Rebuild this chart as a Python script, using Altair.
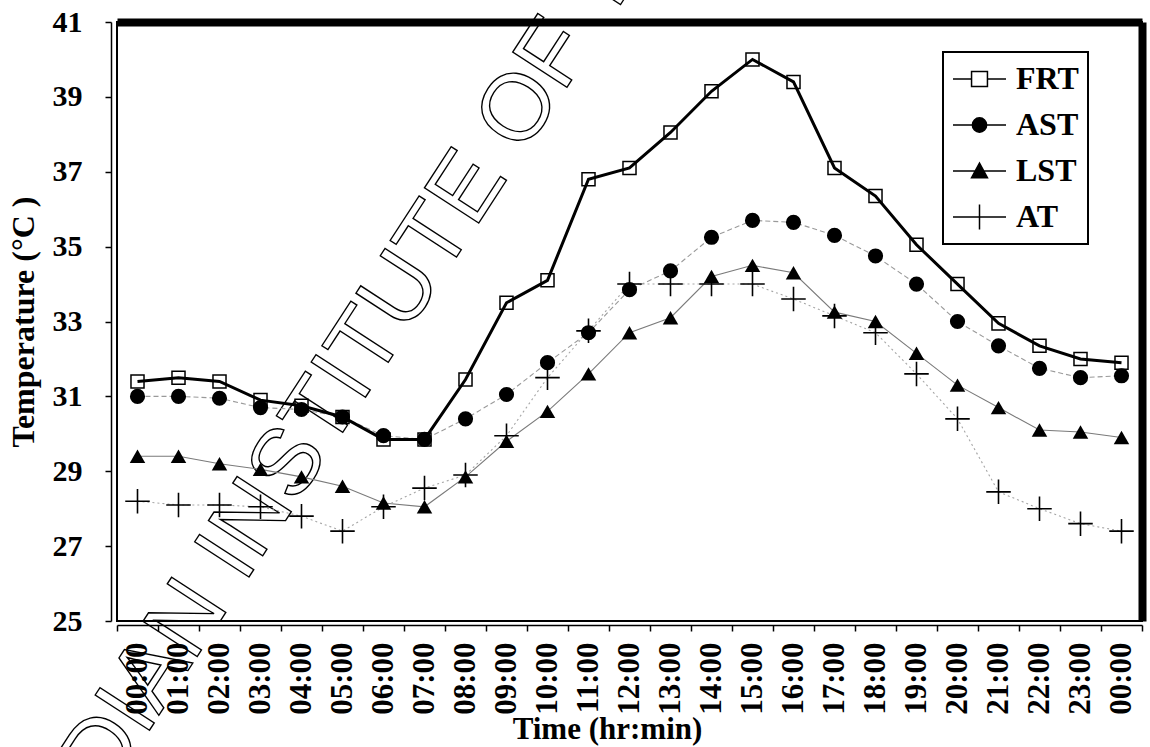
import altair as alt
import pandas as pd

# ---------------- data ----------------
TIMES = ["00:00", "01:00", "02:00", "03:00", "04:00", "05:00", "06:00", "07:00",
         "08:00", "09:00", "10:00", "11:00", "12:00", "13:00", "14:00", "15:00",
         "16:00", "17:00", "18:00", "19:00", "20:00", "21:00", "22:00", "23:00", "00:00"]
FRT = [31.4, 31.5, 31.4, 30.9, 30.75, 30.45, 29.85, 29.85, 31.45, 33.5, 34.1, 36.8, 37.1,
       38.05, 39.15, 40.0, 39.4, 37.1, 36.35, 35.05, 34.0, 32.95, 32.35, 32.0, 31.9]
AST = [31.0, 31.0, 30.95, 30.7, 30.65, 30.45, 29.95, 29.85, 30.4, 31.05, 31.9, 32.7, 33.85,
       34.35, 35.25, 35.7, 35.65, 35.3, 34.75, 34.0, 33.0, 32.35, 31.75, 31.5, 31.55]
LST = [29.4, 29.4, 29.2, 29.05, 28.85, 28.6, 28.15, 28.05, 28.85, 29.8, 30.6, 31.6, 32.7,
       33.1, 34.2, 34.5, 34.3, 33.25, 33.0, 32.15, 31.3, 30.7, 30.1, 30.05, 29.9]
AT = [28.2, 28.1, 28.1, 28.05, 27.8, 27.4, 28.05, 28.55, 28.9, 29.95, 31.5, 32.75, 34.0,
      34.0, 34.0, 34.0, 33.6, 33.15, 32.7, 31.6, 30.4, 28.45, 28.0, 27.6, 27.4]
SERIES = ["FRT", "AST", "LST", "AT"]
Y_TICKS = [25, 27, 29, 31, 33, 35, 37, 39, 41]
WATERMARK = "INDIAN INSTITUTE OF TECHNOLOGY"

rows = []
for name, vals in zip(SERIES, [FRT, AST, LST, AT]):
    for i, v in enumerate(vals):
        rows.append({"idx": i, "series": name, "temp": v})
df = pd.DataFrame(rows)

FONT = "Liberation Serif"
label_expr = "[" + ",".join("'%s'" % t for t in TIMES) + "][datum.value]"

x_scale = alt.Scale(type="band", paddingInner=0, paddingOuter=0, domain=list(range(len(TIMES))))
y_scale = alt.Scale(domain=[25, 41], nice=False, zero=False)

x_axis_main = alt.Axis(
    orient="bottom", labelExpr=label_expr, labelAngle=270, labelFont=FONT, labelFontSize=31,
    labelFontWeight="bold", labelColor="black", labelPadding=11, labelOverlap=False,
    tickBand="extent", tickSize=6, tickColor="black", tickWidth=1.5,
    domainColor="black", domainWidth=1.5, offset=4, grid=False,
    title="Time (hr:min)", titleFont=FONT, titleFontSize=31, titleFontWeight="bold",
    titleColor="black", titlePadding=0, titleX=490)
y_axis_main = alt.Axis(
    orient="left", values=Y_TICKS, labelFont=FONT, labelFontSize=30, labelFontWeight="bold",
    labelColor="black", labelPadding=23, tickSize=6, tickColor="black", tickWidth=1.5,
    domainColor="black", domainWidth=1.5, offset=6, grid=False,
    title="Temperature (°C )", titleFont=FONT, titleFontSize=32, titleFontWeight="bold",
    titleColor="black", titlePadding=12)
x_axis_top = alt.Axis(orient="top", labels=False, ticks=False, domainColor="black",
                      domainWidth=8, grid=False)
y_axis_right = alt.Axis(orient="right", labels=False, ticks=False, domainColor="black",
                        domainWidth=8, grid=False)


def enc(xaxis=None, yaxis=None):
    return dict(
        x=alt.X("idx:O", scale=x_scale, axis=xaxis, title=None),
        y=alt.Y("temp:Q", scale=y_scale, axis=yaxis, title=None),
    )


base = alt.Chart(df)

# watermark
wm = alt.Chart(pd.DataFrame({"t": [WATERMARK]})).mark_text(
    angle=303, font="Liberation Sans", fontSize=94, fill="transparent", stroke="black",
    strokeWidth=1.4, align="left", baseline="middle"
).encode(text="t:N", x=alt.value(-84), y=alt.value(836))

# thin lines
ast_line = base.transform_filter("datum.series == 'AST'").mark_line(
    color="#9a9a9a", strokeWidth=1.1, strokeDash=[5, 3]).encode(**enc(x_axis_main, y_axis_main))
lst_line = base.transform_filter("datum.series == 'LST'").mark_line(
    color="#7a7a7a", strokeWidth=1.1).encode(**enc())
at_line = base.transform_filter("datum.series == 'AT'").mark_line(
    color="#a5a5a5", strokeWidth=1.1, strokeDash=[2, 3]).encode(**enc())

at_pts = base.transform_filter("datum.series == 'AT'").mark_point(
    shape="M-1,0H1M0,-1V1", filled=False, stroke="black", strokeWidth=1.6, size=600,
    opacity=1).encode(**enc())
lst_pts = base.transform_filter("datum.series == 'LST'").mark_point(
    shape="triangle-up", filled=True, color="black", size=240, opacity=1).encode(**enc())
ast_pts = base.transform_filter("datum.series == 'AST'").mark_point(
    shape="circle", filled=True, color="black", size=230, opacity=1).encode(**enc())

frt_line = base.transform_filter("datum.series == 'FRT'").mark_line(
    color="black", strokeWidth=3).encode(**enc())
frt_pts = base.transform_filter("datum.series == 'FRT'").mark_point(
    shape="square", filled=False, stroke="black", strokeWidth=1.5, size=170,
    opacity=1).encode(**enc(x_axis_top, y_axis_right))

# legend (symbols combine line + marker)
LEGEND_PATHS = [
    "M-1,0H-0.3M0.3,0H1M-0.3,-0.28H0.3V0.28H-0.3Z",
    "M-1,0H1M-0.27,0A0.27,0.27,0,1,1,0.27,0A0.27,0.27,0,1,1,-0.27,0Z",
    "M-1,0H1M0,-0.3L0.3,0.25H-0.3Z",
    "M-1,0H1M0,-0.47V0.47",
]
LEGEND_FILLS = ["white", "black", "black", "transparent"]
LEGEND_STROKES = ["black", "black", "black", "black"]
leg = alt.Legend(
    title=None, orient="none", legendX=826, legendY=30, strokeColor="black",
    padding=9, symbolSize=2809, symbolStrokeWidth=1.5,
    labelFont=FONT, labelFontSize=32, labelFontWeight="bold", labelColor="black",
    labelOffset=9, clipHeight=36, rowPadding=10, fillColor="white")
legend_layer = base.transform_filter("false").mark_point(
    filled=False, strokeWidth=1.5, opacity=1).encode(
    shape=alt.Shape("series:N", scale=alt.Scale(domain=SERIES, range=LEGEND_PATHS), legend=leg),
    fill=alt.Fill("series:N", scale=alt.Scale(domain=SERIES, range=LEGEND_FILLS), legend=leg),
    stroke=alt.Stroke("series:N", scale=alt.Scale(domain=SERIES, range=LEGEND_STROKES), legend=leg),
)

chart = alt.layer(
    wm, ast_line, lst_line, at_line, at_pts, lst_pts, ast_pts, frt_line, frt_pts, legend_layer
).resolve_axis(x="independent", y="independent").properties(
    width=1025, height=599,
    padding={"left": 117, "top": 22, "right": 8, "bottom": 126},
    autosize=alt.AutoSizeParams(type="none"),
    background="white",
).configure_view(stroke="black", strokeWidth=2).configure_legend(strokeWidth=2)

chart.save("out.html", embed_options={"renderer": "svg", "actions": False})
